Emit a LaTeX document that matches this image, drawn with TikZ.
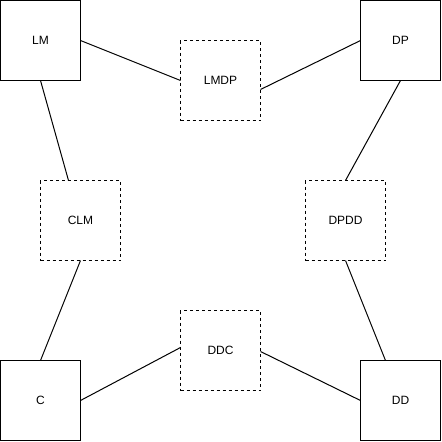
\documentclass[tikz,border=0pt]{standalone}
\usepackage{fontspec}
\setmainfont{Liberation Sans}
\usetikzlibrary{shapes,arrows}
\tikzstyle{r} = [rectangle, minimum width=80pt, minimum height=80pt, inner sep=0pt, outer sep=0pt, text centered, draw=black, line width=1pt, font=\fontsize{12}{14}\selectfont]
\tikzstyle{rd} = [r, dash pattern=on 3pt off 3pt]

\begin{document}
\begin{tikzpicture}[x=1pt, y=1pt, node distance = 360pt, line width=1pt]
		\useasboundingbox (0,0) rectangle (442,-442);
		\node[r](lm) at (40.5,-40.5){LM};
		\node[r,right of=lm](dp){DP};
		\node[r,below of=lm](c){C};
		\node[r,right of=c](dd){DD};
		\node[rd](lmdp) at (220.5,-80.5){LMDP};
		\node[rd](clm) at (80.5,-220.5){CLM};
		\node[rd](dpdd) at (345.5,-220.5){DPDD};
		\node[rd](ddc) at (220.5,-350.5){DDC};
		
		\draw(lm.east)--(lmdp.west);
		\draw([yshift=-9pt]lmdp.east)--(dp.west);
		\draw(lm.south)--([xshift=-12pt]clm.north);
		\draw(dp.south)--(dpdd.north);
		\draw(clm.south)--(c.north);
		\draw(dpdd.south)--([xshift=-15pt]dd.north);
		\draw([yshift=3pt]ddc.west)--(c.east);
		\draw([yshift=-1pt]ddc.east)--(dd.west);
	\end{tikzpicture}
\end{document}
